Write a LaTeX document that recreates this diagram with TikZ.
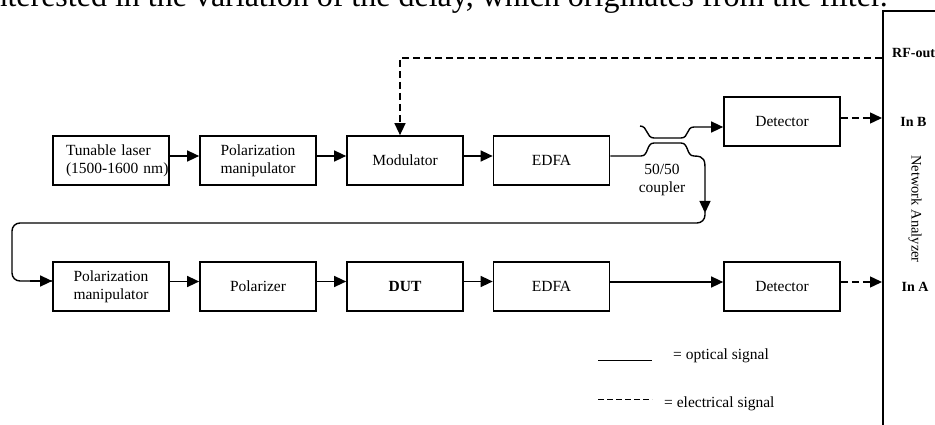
\documentclass[tikz,border=0pt]{standalone}
\usepackage{fontspec}
\setmainfont{Liberation Serif}
\usetikzlibrary{arrows.meta}
\newcommand{\boxfont}{\fontsize{15.5}{17.7}\selectfont}
\newcommand{\labfont}{\fontsize{14}{16}\selectfont}
\begin{document}
\begin{tikzpicture}[x=1pt,y=-1pt,
  box/.style={draw,line width=1.7pt,minimum width=116pt,minimum height=49pt,inner sep=0pt,font=\boxfont,align=center},
  opt/.style={line width=1.4pt},
  elec/.style={line width=1.4pt,dash pattern=on 7pt off 4pt},
  tip/.style={-{Triangle[length=12pt,width=11pt]}},
  lab/.style={font=\labfont,inner sep=0pt}]
\useasboundingbox (0,0) rectangle (935,425);
\clip (0,0) rectangle (935,425);

% cropped caption line above the figure
\node[anchor=base east,inner sep=0pt,font=\fontsize{32}{36}\selectfont] (cap) at (888,7) {interested in the variation of the delay, which originates from the filter.};

% network analyzer
\node[draw,line width=1.8pt,minimum width=120pt,minimum height=460pt,anchor=north west,inner sep=0pt] (na) at (882,10) {};
\node[lab,rotate=-90,font=\fontsize{14.5}{16}\selectfont] (natext) at (915,209) {Network Analyzer};

% top row
\node[box,text width=90pt,align=left] (laser) at (111,160.5) {Tunable laser\\\mbox{(1500-1600 nm)}};
\node[box] (pm1) at (258,160.5) {Polarization\\manipulator};
\node[box] (mod) at (405,160.5) {Modulator};
\node[box] (edfa1) at (551.5,160.5) {EDFA};
\node[box] (det1) at (782,121.5) {Detector};

% bottom row
\node[box] (pm2) at (111,286.5) {Polarization\\manipulator};
\node[box] (pol) at (258,286.5) {Polarizer};
\node[box] (dut) at (405,286.5) {\textbf{DUT}};
\node[box] (edfa2) at (551.5,286.5) {EDFA};
\node[box] (det2) at (782,286.5) {Detector};

% analyzer port labels
\node[lab,anchor=west,font=\labfont\bfseries] (rflab) at (892,53) {RF-out};
\node[lab,font=\labfont\bfseries] (inb) at (913.5,122) {In B};
\node[lab,font=\labfont\bfseries] (ina) at (915,287) {In A};

% coupler label
\node[inner sep=0pt,font=\boxfont,align=center] (cpl) at (662,180) {50/50\\coupler};

% optical connectors, top row
\draw[opt,tip] ([yshift=4.5pt]laser.east) -- ([yshift=4.5pt]pm1.west);
\draw[opt,tip] ([yshift=4.5pt]pm1.east) -- ([yshift=4.5pt]mod.west);
\draw[opt,tip] ([yshift=4.5pt]mod.east) -- ([yshift=4.5pt]edfa1.west);

% coupler
\coordinate (cu) at (640,126);
\coordinate (cp) at (705,213);
\draw[opt,tip] (cu) .. controls (648,126) and (646,138) .. (654,138) -- (681,138)
   .. controls (689,138) and (686,127) .. (694,127) -- ([yshift=-5.5pt]det1.west);
\draw[opt,tip] ([yshift=4.5pt]edfa1.east) -- (641,156) .. controls (649,156) and (646,143) .. (654,143)
   -- (681,143) .. controls (689,143) and (686,156) .. (694,156)
   .. controls (705,156) and (705,161) .. (705,170) -- (cp);
\draw[opt,rounded corners=8pt] ([yshift=1pt]cp) -- (705,223) -- (12,223) -- (12,281) -- ([yshift=5.5pt]pm2.west);
\draw[opt,tip] (30,281) -- ([yshift=5.5pt]pm2.west);

% optical connectors, bottom row
\draw[opt,tip] ([yshift=5pt]pm2.east) -- ([yshift=5pt]pol.west);
\draw[opt,tip] ([yshift=5pt]pol.east) -- ([yshift=5pt]dut.west);
\draw[opt,tip] ([yshift=5pt]dut.east) -- ([yshift=5pt]edfa2.west);
\draw[opt,tip] ([yshift=4.5pt]edfa2.east) -- ([yshift=4.5pt]det2.west);

% electrical connectors
\coordinate (rf) at (na.west |- 0,58);
\draw[elec,tip] (rf) -| ([xshift=-5pt]mod.north);
\coordinate (d1o) at ([yshift=3.5pt]det1.east);
\draw[elec,tip] (d1o) -- (d1o -| na.west);
\coordinate (d2o) at ([yshift=4.5pt]det2.east);
\draw[elec,tip] (d2o) -- (d2o -| na.west);

% legend
\coordinate (l1a) at (598,360);
\coordinate (l1b) at (652,360);
\coordinate (l2a) at (598,399);
\coordinate (l2b) at (652,399);
\draw[line width=1pt] (l1a) -- (l1b);
\draw[line width=1pt,dash pattern=on 6pt off 3pt] (l2a) -- (l2b);
\node[inner sep=0pt,anchor=west,font=\boxfont] (lopt) at (673,356) {= optical signal};
\node[inner sep=0pt,anchor=west,font=\boxfont] (lele) at (664,404) {= electrical signal};
\end{tikzpicture}
\end{document}
